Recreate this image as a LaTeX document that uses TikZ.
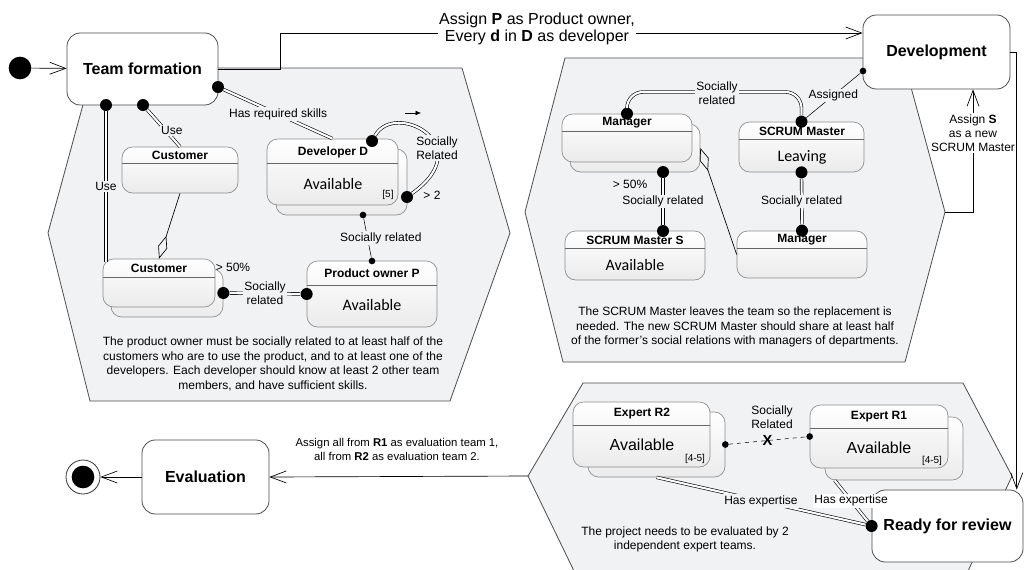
\documentclass[tikz,border=0pt]{standalone}
\usepackage{fontspec}
\setmainfont{Liberation Sans}
\newfontfamily\calib{Carlito}
\usetikzlibrary{arrows.meta}

\definecolor{hexfill}{HTML}{F1F2F4}
\definecolor{hexline}{HTML}{4D4D4D}
\definecolor{boxline}{HTML}{8C8C8C}
\definecolor{boxfill}{HTML}{EBEBEB}

\tikzset{
  hexa/.style={draw=hexline, fill=hexfill, line width=0.6pt},
  bigstate/.style={draw=black!70, rounded corners=10pt, fill=white, line width=0.6pt, inner sep=0pt, font=\bfseries\fontsize{12}{14}\selectfont},
  sub/.style={draw=boxline, rounded corners=8pt, top color=white, bottom color=boxfill, line width=0.5pt, inner sep=0pt},
  hdr/.style={draw=black!60, line width=0.5pt},
  ttl/.style={font=\bfseries\fontsize{9}{10}\selectfont, inner sep=0pt},
  body/.style={font=\calib\fontsize{12}{14}\selectfont, inner sep=0pt},
  bodyb/.style={font=\fontsize{12}{14}\selectfont, inner sep=0pt},
  mult/.style={font=\fontsize{7.5}{8}\selectfont, inner sep=0pt},
  lbl/.style={font=\fontsize{9}{10.5}\selectfont, fill=hexfill, inner sep=1pt, align=center},
  note/.style={font=\fontsize{9}{11}\selectfont, align=center, inner sep=0pt},
  bigdot/.style={circle, fill=black, inner sep=0pt, minimum size=9pt},
  smalldot/.style={circle, fill=black, inner sep=0pt, minimum size=5pt},
  dbl/.style={double=white, double distance=1.6pt, line width=0.45pt},
  uml/.style={-{Straight Barb[length=12pt, width=9pt]}, line width=0.5pt},
  agg/.style={-{Diamond[open, length=18pt, width=7pt]}, line width=0.5pt},
}

\begin{document}
\begin{tikzpicture}[x=0.75pt, y=-0.75pt]
\useasboundingbox[fill=white] (0,0) rectangle (1025,569);

% regions
\draw[hexa] (93,68) -- (462,68) -- (510,233) -- (450,401) -- (90,401) -- (48,233) -- cycle;
\draw[hexa] (565,58) -- (903,58) -- (945,212) -- (905,362) -- (563,362) -- (525,212) -- cycle;
\draw[hexa] (583,383) -- (963,383) -- (1012,476) -- (968,571) -- (574,571) -- (528,476) -- cycle;
\coordinate (h2r) at (945,212);
\coordinate (h3l) at (528,476);

% top level states
\node[circle, fill=black, minimum size=17pt, inner sep=0pt] (init) at (20,68) {};
\node[bigstate, minimum width=113.25pt, minimum height=54pt] (team) at (142.5,69) {Team formation};
\node[bigstate, minimum width=110.25pt, minimum height=55.5pt] (devel) at (936.5,52) {Development};
\node[bigstate, minimum width=113.25pt, minimum height=54pt] (ready) at (947.5,526) {Ready for review};
\node[bigstate, minimum width=95.25pt, minimum height=55.5pt] (eval) at (205.5,477) {Evaluation};
\node[circle, draw=black!80, line width=0.6pt, minimum size=25.5pt, inner sep=0pt] (final) at (83,477) {};
\node[circle, fill=black, minimum size=17pt, inner sep=0pt] (final-in) at (final) {};

\draw[uml] (init) -- (team);
\coordinate (k1) at (280,33);
\draw[uml] (team.east) -| (k1) -- (k1 -| devel.west);
\node[font=\fontsize{12}{12.75}\selectfont, fill=white, align=center, inner sep=1pt] (lblP) at (537,28.5) {Assign \textbf{P} as Product owner,\\Every \textbf{d} in \textbf{D} as developer};
\draw[uml] (devel.east) -| ([xshift=-5pt]ready.north east);
\draw[uml] (h2r) -| ([xshift=27.4pt]devel.south);
\node[lbl, fill=white] (lblS) at (973,133) {Assign \textbf{S}\\as a new\\SCRUM Master};
\draw[uml] (h3l) -- (eval.east);
\node[font=\fontsize{8.5}{11}\selectfont, align=center, inner sep=0pt] (lblR) at (397,449.5) {Assign all from \textbf{R1} as evaluation team 1,\\all from \textbf{R2} as evaluation team 2.};
\draw[uml] (eval.west) -- (final);

% team formation
\node[sub, minimum width=87pt, minimum height=34.5pt] (cust1) at (180,170) {};
\draw[hdr] (cust1.west |- 0,163) -- (cust1.east |- 0,163);
\node[ttl] (cust1-t) at (180,155) {Customer};
\node[sub, minimum width=84pt, minimum height=36pt] (cust2s) at (167,293) {};
\node[sub, minimum width=84pt, minimum height=36pt] (cust2) at (159,283) {};
\draw[hdr] (cust2.west |- 0,277) -- (cust2.east |- 0,277);
\node[ttl] (cust2-t) at (159,268) {Customer};
\node[sub, minimum width=97.5pt, minimum height=49.5pt] (owner) at (372,294) {};
\draw[hdr] (owner.west |- 0,285) -- (owner.east |- 0,285);
\node[ttl] (owner-t) at (372,273) {Product owner P};
\node[body] (owner-b) at (372,305) {Available};
\node[sub, minimum width=98.25pt, minimum height=49.5pt] (devs) at (341.5,182) {};
\node[sub, minimum width=98.25pt, minimum height=49.5pt] (dev) at (332.5,172) {};
\draw[hdr] (dev.west |- 0,163) -- (dev.east |- 0,163);
\node[ttl] (dev-t) at (333,152) {Developer D};
\node[body] (dev-b) at (333,184) {Available};
\node[mult] (dev-m) at (388,195) {[5]};

\node[bigdot] (tu1) at (106,105) {};
\node[bigdot] (tu2) at (143,105) {};
\node[bigdot] (ts) at (218,87) {};
\draw[dbl] (tu1) -- ++(0,157) node[lbl, pos=.5] {Use};
\draw[dbl] (tu2) -- (cust1.north) node[lbl, pos=.55, xshift=5pt] {Use};
\draw[agg] (cust1.south) -- (cust2.north);
\draw[dbl] (ts) -- (dev.north) node[lbl, midway] {Has required skills};

\node[bigdot] (dl1) at (372,141) {};
\node[bigdot] (dl2) at (407,197) {};
\draw[dbl] (dl1) .. controls (395,100) and (480,145) .. (dl2);
\node[lbl] (lsr) at (437,148) {Socially\\Related};
\node[lbl, fill=none] (lgt) at (432,195) {> 2};
\coordinate (ar1) at (405,113);
\coordinate (ar2) at (421,113);
\draw[-{Latex[length=4pt, width=3.5pt]}] (ar1) -- (ar2);

\node[smalldot] (dd1) at (363,215) {};
\node[smalldot] (dd2) at (372,261) {};
\draw (dd1) -- (dd2) node[lbl, midway, xshift=10pt] {Socially related};

\node[bigdot] (cs1) at (cust2s.east) {};
\node[bigdot] (cs2) at (owner.west) {};
\draw[dbl] (cs1) -- (cs2) node[lbl, midway] {Socially\\related};
\node[lbl, fill=none] (l50a) at (233,267) {> 50\%};

\node[note] (n1) at (273,364) {The product owner must be socially related to at least half of the\\customers who are to use the product, and to at least one of the\\developers. Each developer should know at least 2 other team\\members, and have sufficient skills.};

% development
\node[sub, minimum width=97.5pt, minimum height=36pt] (mgr1s) at (635,148) {};
\node[sub, minimum width=97.5pt, minimum height=36pt] (mgr1) at (627,138) {};
\draw[hdr] (mgr1.west |- 0,131) -- (mgr1.east |- 0,131);
\node[ttl] (mgr1-t) at (627,123) {Manager};
\node[sub, minimum width=105pt, minimum height=36.75pt] (smS) at (635,255.5) {};
\draw[hdr] (smS.west |- 0,248) -- (smS.east |- 0,248);
\node[ttl] (smS-t) at (635,240) {SCRUM Master S};
\node[body] (smS-b) at (635,265) {Available};
\node[sub, minimum width=93.75pt, minimum height=37.5pt] (sm) at (801.5,147) {};
\draw[hdr] (sm.west |- 0,139) -- (sm.east |- 0,139);
\node[ttl] (sm-t) at (802,131) {SCRUM Master};
\node[body] (sm-b) at (802,157) {Leaving};
\node[sub, minimum width=97.5pt, minimum height=35.25pt] (mgr2) at (802,254.5) {};
\draw[hdr] (mgr2.west |- 0,248) -- (mgr2.east |- 0,248);
\node[ttl] (mgr2-t) at (802,240) {Manager};

\node[bigdot] (m1) at (mgr1.north) {};
\node[bigdot] (m2) at (sm.north) {};
\draw[dbl, rounded corners=12pt] (m1) |- (717,92) -| (m2);
\node[lbl] (lsm) at (717,93) {Socially\\related};
\node[smalldot] (as2) at (863,71) {};
\draw (m2) -- (as2) node[lbl, midway] {Assigned};
\node[bigdot] (m3) at (663,172) {};
\node[bigdot] (m4) at (663,231) {};
\draw[dbl] (m3) -- (m4) node[lbl, midway] {Socially related};
\node[lbl, fill=none] (l50b) at (630,184) {> 50\%};
\node[bigdot] (m5) at (sm.south) {};
\node[bigdot] (m6) at (mgr2.north) {};
\draw[dbl] (m5) -- (m6) node[lbl, midway] {Socially related};
\draw[agg] (mgr2.west) -- (mgr1s.east);

\node[note] (n2) at (735,327) {The SCRUM Master leaves the team so the replacement is\\needed. The new SCRUM Master should share at least half\\of the former's social relations with managers of departments.};

% ready for review
\node[sub, minimum width=102.75pt, minimum height=48.75pt] (r2s) at (656.5,444.5) {};
\node[sub, minimum width=102.75pt, minimum height=48.75pt] (r2) at (641.5,434.5) {};
\draw[hdr] (r2.west |- 0,425) -- (r2.east |- 0,425);
\node[ttl] (r2-t) at (642,414) {Expert R2};
\node[bodyb] (r2-b) at (642,445) {Available};
\node[mult] (r2-m) at (695,459) {[4-5]};
\node[sub, minimum width=103.5pt, minimum height=47.25pt] (r1s) at (894,448.5) {};
\node[sub, minimum width=103.5pt, minimum height=47.25pt] (r1) at (879,436.5) {};
\draw[hdr] (r1.west |- 0,428) -- (r1.east |- 0,428);
\node[ttl] (r1-t) at (879,417) {Expert R1};
\node[bodyb] (r1-b) at (879,448) {Available};
\node[mult] (r1-m) at (932,461) {[4-5]};

\node[smalldot] (x1) at (r2s.east) {};
\node[smalldot] (x2) at (r1.west) {};
\draw[dashed] (x1) -- (x2) node[midway, font=\bfseries\fontsize{11}{11}\selectfont, inner sep=0pt] {X};
\node[lbl, fill=none] (lsr2) at (772,417) {Socially\\Related};
\node[bigdot] (rd) at (ready.west) {};
\draw[dbl] (r2s.south) -- (rd) node[lbl, midway] {Has expertise};
\draw[dbl] ([xshift=7.5pt]r1s.south west) -- (rd) node[lbl, midway, fill=white] {Has expertise};

\node[note] (n3) at (685,539.5) {The project needs to be evaluated by 2\\independent expert teams.};

\end{tikzpicture}
\end{document}
